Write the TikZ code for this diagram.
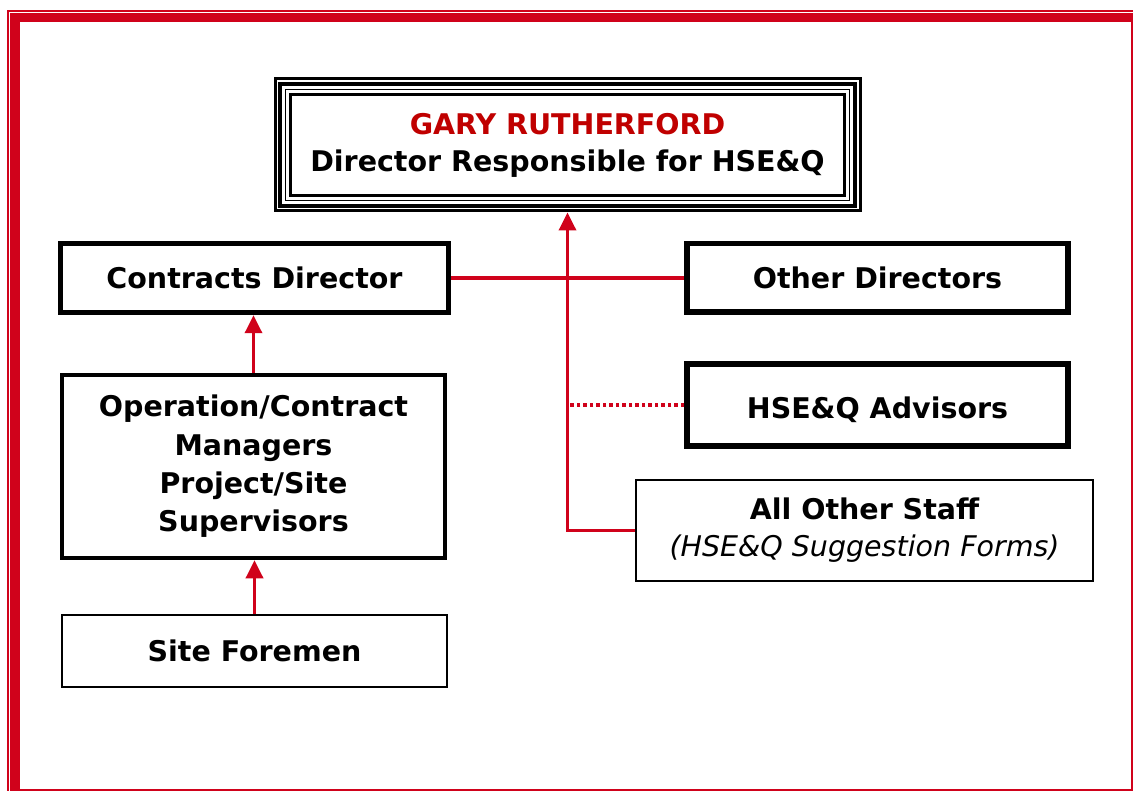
\documentclass[tikz,border=0pt]{standalone}
\usepackage{fontspec}
\setmainfont{DejaVu Sans}
\usetikzlibrary{arrows.meta}
\definecolor{hred}{RGB}{208,2,27}
\definecolor{gred}{RGB}{192,0,0}
\begin{document}
\begin{tikzpicture}[x=1pt,y=-1pt,
  box/.style={draw,rectangle,inner sep=0pt,align=center,font=\bfseries\fontsize{28.5}{37}\selectfont},
  heavy/.style={box,line width=5.5pt},
  medium/.style={box,line width=4.5pt},
  light/.style={box,line width=2.3pt},
  conn/.style={hred,line width=3.5pt},
  arr/.style={conn,-{Triangle[width=17pt,length=18pt]}},
  dotconn/.style={hred,line width=3.5pt,dash pattern=on 3.5pt off 3pt}]
\useasboundingbox (0,0) rectangle (1133,791);
\fill[white] (0,0) rectangle (1133,791);
% page frame
\begin{scope}
  \clip (0,0) rectangle (1133,791);
  \draw[hred,line width=8pt] (15.5,18.5) rectangle (1135,793);
  \draw[hred,line width=1.2pt] (11,13.8) rectangle (1140,800);
  \draw[hred,line width=2.4pt] (8,11) rectangle (1142,800);
\end{scope}
% top box
\node[box,line width=3pt,minimum width=585pt,minimum height=132pt] (top) at (567.5,145)
  {\textcolor{gred}{GARY RUTHERFORD}\\Director Responsible for HSE\&Q};
\draw[line width=4.5pt] ([shift={(6.5pt,-6.5pt)}]top.north west) rectangle ([shift={(-6.5pt,6.5pt)}]top.south east);
\draw[line width=1.5pt] ([shift={(12pt,-12pt)}]top.north west) rectangle ([shift={(-12pt,12pt)}]top.south east);
\draw[line width=3pt] ([shift={(17pt,-17pt)}]top.north west) rectangle ([shift={(-17pt,17pt)}]top.south east);
% other boxes
\node[heavy,minimum width=388pt,minimum height=69pt] (contracts) at (254.5,278) {Contracts Director};
\node[heavy,minimum width=381pt,minimum height=68.5pt,text height=27pt,text depth=6pt] (other) at (877.5,278) {Other Directors};
\node[heavy,minimum width=381pt,minimum height=82pt,text height=34pt,text depth=6pt] (hseq) at (877.5,405) {HSE\&Q Advisors};
\node[medium,minimum width=383pt,minimum height=183pt,font=\bfseries\fontsize{28.5}{38.3}\selectfont] (ops) at (253.5,466.5)
  {Operation/Contract\\Managers\\Project/Site\\Supervisors};
\node[light,minimum width=457pt,minimum height=101pt] (staff) at (864.5,530.5)
  {All Other Staff\\{\mdseries\itshape (HSE\&Q Suggestion Forms)}};
\node[light,minimum width=385pt,minimum height=72pt] (foremen) at (254.5,651) {Site Foremen};
% connectors
\draw[conn] (contracts.east) -- (other.west);
\draw[dotconn] (hseq.west) -- (top.south |- hseq.west);
\draw[arr] (staff.west) -| (top.south);
\draw[arr] (ops.north) -- (ops.north |- contracts.south);
\draw[arr] (foremen.north) -- (foremen.north |- ops.south);
\end{tikzpicture}
\end{document}
